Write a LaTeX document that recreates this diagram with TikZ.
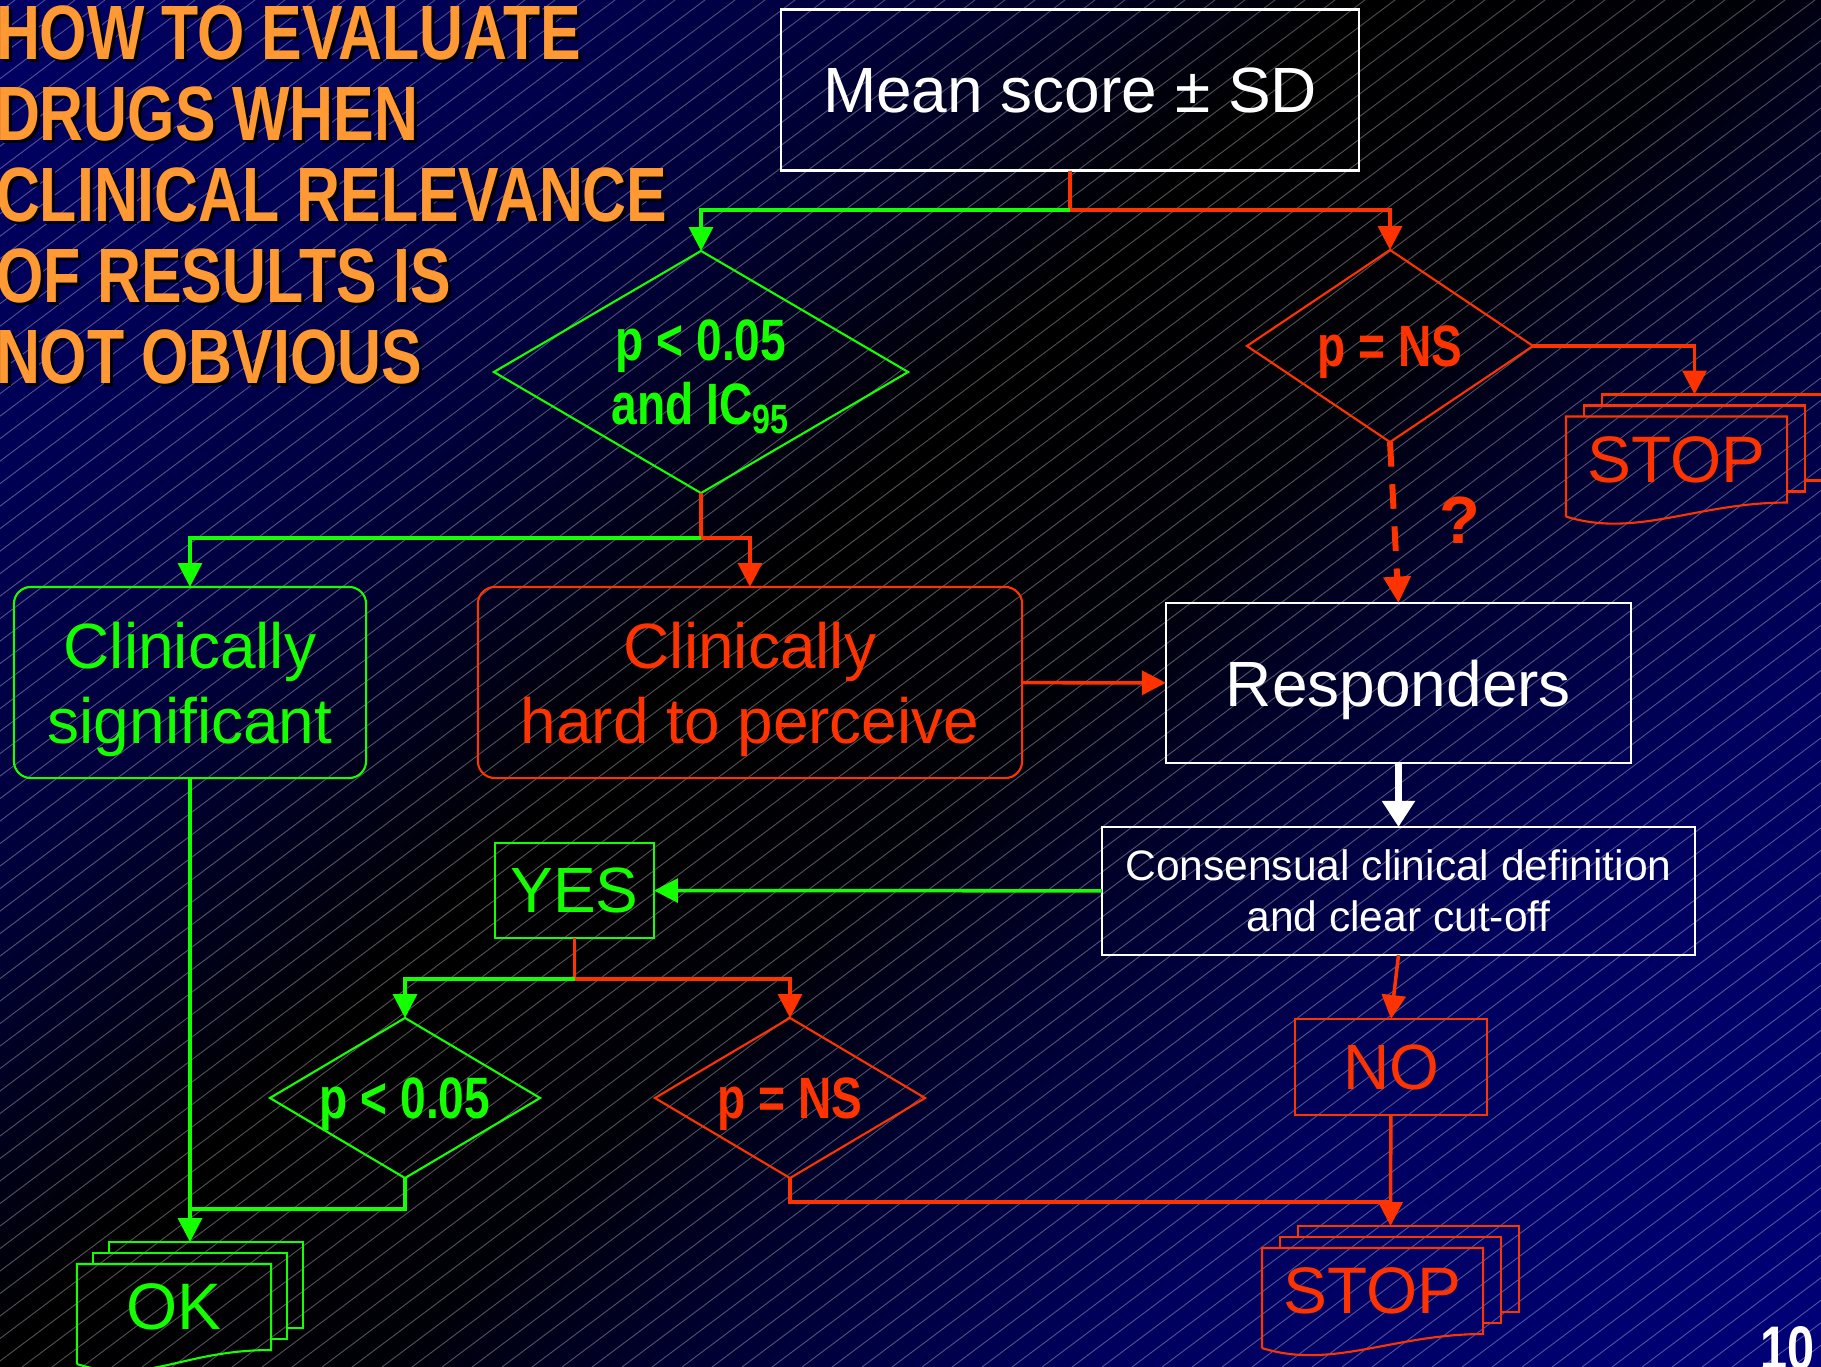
\documentclass[tikz,border=0pt]{standalone}
\usepackage{fontspec}
\setmainfont{Liberation Sans}
\newfontfamily\narrowfont[FakeStretch=0.79]{Liberation Sans}
\usetikzlibrary{arrows.meta,positioning,shapes.geometric}
\definecolor{lime}{RGB}{20,255,0}
\definecolor{alarm}{RGB}{255,51,0}
\definecolor{titleorange}{RGB}{255,153,51}
\pgfdeclareverticalshading{slide}{100bp}{rgb(0bp)=(0,0,0.47); rgb(14.6bp)=(0,0,0.47); rgb(30.6bp)=(0,0,0.37); rgb(40.5bp)=(0,0,0.18); rgb(46.5bp)=(0,0,0.03); rgb(55.3bp)=(0,0,0); rgb(66bp)=(0,0,0.235); rgb(74.8bp)=(0,0,0.33); rgb(85.4bp)=(0,0,0.39); rgb(100bp)=(0,0,0.39)}
\newcommand{\docstack}[3]{%
  \draw[#2, docline] ([shift={(0,14)}]#1.south west) -- (#1.north west) -- (#1.north east) -- (#1.south east)
    .. controls ([shift={(-90,0)}]#1.south east) and ([shift={(70,36)}]#1.south west) .. ([shift={(0,14)}]#1.south west);
  \foreach \k in {1,2}
    \draw[#2, docline] ([shift={({\k*#3},{-(\k-1)*11})}]#1.north west) -- ++(0,-11)
      -| ([shift={({\k*#3},{-\k*11})}]#1.south east) -- ([shift={({(\k-1)*#3},{-\k*11})}]#1.south east);
}

\begin{document}
\begin{tikzpicture}[
  x=0.01cm, y=-0.01cm,
  >={Triangle[length=6.8pt,width=6.8pt]},
  every node/.style={font=\fontsize{18.2}{21.4}\selectfont, inner sep=0pt, outer sep=0pt, text depth=0pt},
  box/.style={draw=white, line width=0.6pt, text=white, align=center},
  gbox/.style={draw=lime, line width=0.6pt, text=lime, align=center},
  rbox/.style={draw=alarm, line width=0.6pt, text=alarm, align=center},
  dec/.style={diamond, line width=0.6pt, align=center, font=\narrowfont\bfseries\fontsize{16.6}{18}\selectfont},
  gdec/.style={dec, draw=lime, text=lime},
  rdec/.style={dec, draw=alarm, text=alarm},
  docs/.style={minimum width=#1, minimum height=0.86cm, font=\fontsize{18.7}{18.7}\selectfont},
  docline/.style={line width=0.6pt},
  title/.style={anchor=north west, align=left, font=\narrowfont\bfseries\fontsize{21.9}{23}\selectfont},
  gline/.style={lime, line width=1pt},
  rline/.style={alarm, line width=1pt}
]
\useasboundingbox (0,0) rectangle (1821,1367);
\clip (0,0) rectangle (1821,1367);
\shade[shading=slide, shading angle=45] (0,0) rectangle (1821,1367);
\foreach \k in {0,...,122}
  \draw[white, opacity=0.33, line width=0.25pt] ({15+30*\k},0) -- ({15+30*\k-1823},1367);

\node[title, text=black] (titleshade) at (-1,9) {HOW TO EVALUATE\\DRUGS WHEN\\CLINICAL RELEVANCE\\OF RESULTS IS\\NOT OBVIOUS};
\node[title, text=titleorange] (title) at (-4,6) {HOW TO EVALUATE\\DRUGS WHEN\\CLINICAL RELEVANCE\\OF RESULTS IS\\NOT OBVIOUS};

\node[box, minimum width=5.77cm, minimum height=1.61cm] (mean) at (1070,90) {Mean score ± SD};
\node[gdec, minimum width=4.14cm, minimum height=2.42cm, aspect=1.71] (sig) at (701,372) {p < 0.05\\and IC\textsubscript{95}};
\node[rdec, minimum width=2.86cm, minimum height=1.92cm, aspect=1.49] (ns) at (1390,346) {p = NS};
\node[docs=2.21cm, text=alarm] (stopA) at (1676.5,459.5) {STOP};
\node[font=\bfseries\fontsize{19}{19}\selectfont, text=alarm] (query) at (1460,520) {?};
\node[gbox, rounded corners=0.17cm, minimum width=3.52cm, minimum height=1.91cm] (clinsig) at (190,682.5) {Clinically\\significant};
\node[rbox, rounded corners=0.17cm, minimum width=5.44cm, minimum height=1.91cm] (hard) at (750,682.5) {Clinically\\hard to perceive};
\node[box, minimum width=4.65cm, minimum height=1.60cm] (resp) at (1398.5,683) {Responders};
\node[box, minimum width=5.93cm, minimum height=1.28cm, font=\fontsize{12.1}{14.5}\selectfont] (cons) at (1398.5,891) {Consensual clinical definition\\and clear cut-off};
\node[gbox, minimum width=1.59cm, minimum height=0.95cm] (yes) at (574.5,890.5) {YES};
\node[gdec, minimum width=2.70cm, minimum height=1.60cm, aspect=1.69] (lowsig) at (405,1098) {p < 0.05};
\node[rdec, minimum width=2.70cm, minimum height=1.60cm, aspect=1.69] (lowns) at (790,1098) {p = NS};
\node[rbox, minimum width=1.92cm, minimum height=0.96cm] (no) at (1391,1067) {NO};
\node[docs=2.21cm, text=alarm] (stopB) at (1372.5,1291) {STOP};
\node[docs=1.94cm, text=lime] (okdoc) at (174,1307) {OK};
\node[font=\narrowfont\bfseries\fontsize{17.5}{17.5}\selectfont, text=white, anchor=north west] (pageno) at (1760,1327) {10};

\docstack{stopA}{alarm}{18}
\docstack{stopB}{alarm}{18}
\docstack{okdoc}{lime}{16}

\coordinate (split1) at (1070,210);
\coordinate (split2) at (701,538);
\coordinate (split3) at (574.5,979);
\coordinate (joinA) at (190,1209);
\coordinate (joinB) at (1390,1202);

\draw[rline] (mean) -- (split1);
\draw[gline,->] (split1) -| (sig);
\draw[rline,->] (split1) -| (ns);
\draw[rline,->] (ns.east) -| ([shift={(18,-22)}]stopA.north);
\draw[alarm, line width=1.7pt, dash pattern=on 7pt off 5pt, -{Triangle[length=7.5pt,width=7.5pt]}] (ns.south) -- (resp.north);
\draw[rline] (sig) -- (split2);
\draw[gline,->] (split2) -| (clinsig);
\draw[rline,->] (split2) -| (hard);
\draw[rline,->] (hard) -- (resp);
\draw[white, line width=2pt, -{Triangle[length=7.4pt,width=9pt]}] (resp) -- (cons);
\draw[gline,->] (cons) -- (yes);
\draw[rline,->] (cons.south) -- (no.north);
\draw[rline] (yes) -- (split3);
\draw[gline,->] (split3) -| (lowsig);
\draw[rline,->] (split3) -| (lowns);
\draw[gline] (lowsig) |- (joinA);
\draw[gline,->] (clinsig) -- ([shift={(16,-22)}]okdoc.north);
\draw[rline] (lowns) |- (joinB);
\draw[rline,->] (no) -- ([shift={(18,-22)}]stopB.north);
\end{tikzpicture}
\end{document}
